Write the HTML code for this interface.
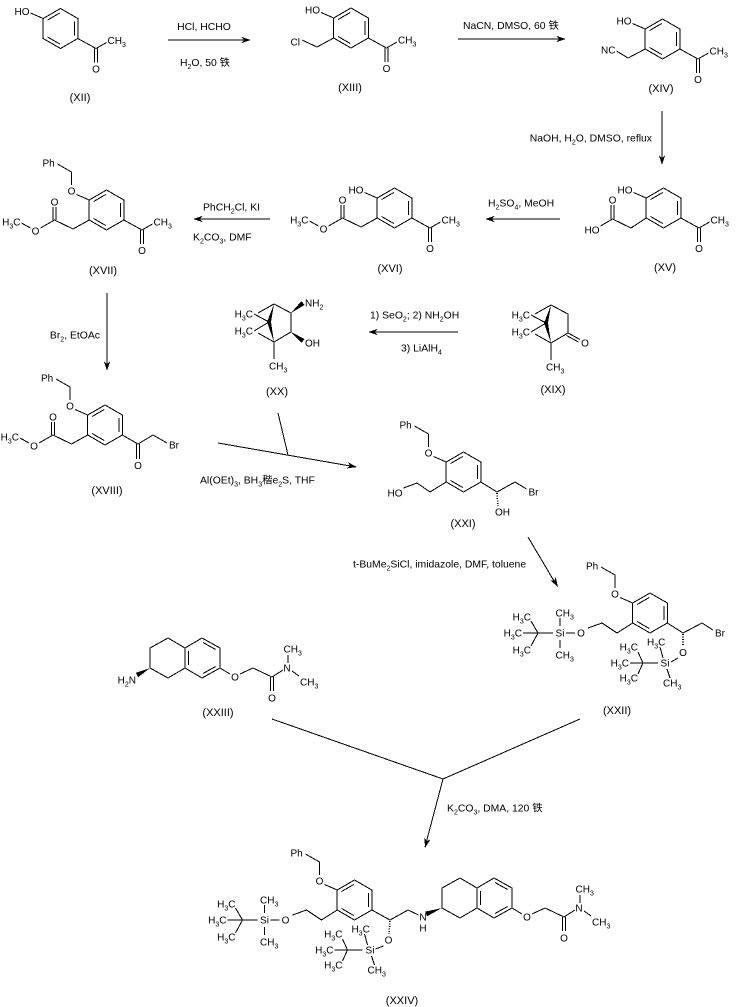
<!DOCTYPE html>
<html><head><meta charset="utf-8"><style>
html,body{margin:0;padding:0;background:#fff;}
svg{display:block;}
text{font-family:"Liberation Sans","Noto Sans CJK SC",sans-serif;font-size:10px;fill:#000;}
.r{font-size:10.4px;}
.l{font-size:11px;text-anchor:middle;}
.m{text-anchor:middle;}
.e{text-anchor:end;}
path{stroke:#000;stroke-width:1;fill:none;shape-rendering:crispEdges;}
.h{stroke-dasharray:1.2,1.3;stroke-width:1.6;}
polygon{fill:#000;stroke:none;shape-rendering:crispEdges;}
</style></head><body>
<svg width="736" height="1007" viewBox="0 0 736 1007" xmlns="http://www.w3.org/2000/svg">

<!-- ===== Arrows ===== -->
<path d="M168,40H250"/><polygon points="0,0 -10,-3.2 -7,0 -10,3.2" transform="translate(251,40)"/>
<text class="r m" x="204" y="30">HCl, HCHO</text>
<text class="r m" x="205" y="66">H<tspan dy="3" font-size="7">2</tspan><tspan dy="-3">O, 50 铁</tspan></text>

<path d="M458,39H565"/><polygon points="0,0 -10,-3.2 -7,0 -10,3.2" transform="translate(566,39)"/>
<text class="r" x="463" y="29">NaCN, DMSO, 60 铁</text>

<path d="M662,111V164"/><polygon points="0,0 -10,-3.2 -7,0 -10,3.2" transform="translate(662,165) rotate(90)"/>
<text class="r e" x="652" y="141.5">NaOH, H<tspan dy="3" font-size="7">2</tspan><tspan dy="-3">O, DMSO, reflux</tspan></text>

<path d="M560,219H486"/><polygon points="0,0 -10,-3.2 -7,0 -10,3.2" transform="translate(485,219) rotate(180)"/>
<text class="r" x="488" y="206.5">H<tspan dy="3" font-size="7">2</tspan><tspan dy="-3">SO</tspan><tspan dy="3" font-size="7">4</tspan><tspan dy="-3">, MeOH</tspan></text>

<path d="M270,219H194"/><polygon points="0,0 -10,-3.2 -7,0 -10,3.2" transform="translate(193,219) rotate(180)"/>
<text class="r" x="203" y="210.5">PhCH<tspan dy="3" font-size="7">2</tspan><tspan dy="-3">Cl, KI</tspan></text>
<text class="r" x="193" y="240.5">K<tspan dy="3" font-size="7">2</tspan><tspan dy="-3">CO</tspan><tspan dy="3" font-size="7">3</tspan><tspan dy="-3">, DMF</tspan></text>

<path d="M107,293V370"/><polygon points="0,0 -10,-3.2 -7,0 -10,3.2" transform="translate(107,371) rotate(90)"/>
<text class="r e" x="100" y="338.5">Br<tspan dy="3" font-size="7">2</tspan><tspan dy="-3">, EtOAc</tspan></text>

<path d="M458,332H369"/><polygon points="0,0 -10,-3.2 -7,0 -10,3.2" transform="translate(368,332) rotate(180)"/>
<text class="r" x="370" y="318.5">1) SeO<tspan dy="3" font-size="7">2</tspan><tspan dy="-3">; 2) NH</tspan><tspan dy="3" font-size="7">2</tspan><tspan dy="-3">OH</tspan></text>
<text class="r" x="401" y="351.5">3) LiAlH<tspan dy="3" font-size="7">4</tspan></text>

<path d="M218,443L356,467M278,413L288,455"/><polygon points="0,0 -10,-3.2 -7,0 -10,3.2" transform="translate(357,467) rotate(9.9)"/>
<text class="r" x="200" y="483.5">Al(OEt)<tspan dy="3" font-size="7">3</tspan><tspan dy="-3">, BH</tspan><tspan dy="3" font-size="7">3</tspan><tspan dy="-3">稭e</tspan><tspan dy="3" font-size="7">2</tspan><tspan dy="-3">S, THF</tspan></text>

<path d="M528,537L557,586"/><polygon points="0,0 -10,-3.2 -7,0 -10,3.2" transform="translate(558,587) rotate(59)"/>
<text class="r" x="353" y="567.5">t-BuMe<tspan dy="3" font-size="7">2</tspan><tspan dy="-3">SiCl, imidazole, DMF, toluene</tspan></text>

<path d="M272,719L443,779L580,719M443,779L425,847"/><polygon points="0,0 -10,-3.2 -7,0 -10,3.2" transform="translate(425,848) rotate(104.6)"/>
<text class="r" x="447" y="811.5">K<tspan dy="3" font-size="7">2</tspan><tspan dy="-3">CO</tspan><tspan dy="3" font-size="7">3</tspan><tspan dy="-3">, DMA, 120 铁</tspan></text>

<!-- ===== XII ===== -->
<g transform="translate(60.5,28.5)">
<path d="M0,-20L17.3,-10L17.3,10L0,20L-17.3,10L-17.3,-10Z M-12.95,-8.47L-0.85,-15.47 M13.8,-7L13.8,7 M-12.95,8.47L-0.85,15.47"/>
<path d="M17.3,10L35.5,20L46,14 M34,20L34,34 M37,20L37,34"/><text x="47" y="15.5">CH<tspan dy="3" font-size="7">3</tspan></text><text class="m" x="35.5" y="44">O</text>
<path d="M-30,-15.5L-17.3,-10"/><text class="e" x="-31" y="-13.5">HO</text>
</g>
<text class="l" x="80" y="101">(XII)</text>

<!-- ===== XIII ===== -->
<g transform="translate(351,28)">
<path d="M0,-20L17.3,-10L17.3,10L0,20L-17.3,10L-17.3,-10Z M-12.95,-8.47L-0.85,-15.47 M13.8,-7L13.8,7 M-12.95,8.47L-0.85,15.47"/>
<path d="M17.3,10L35.5,20L46,14 M34,20L34,34 M37,20L37,34"/><text x="47" y="15.5">CH<tspan dy="3" font-size="7">3</tspan></text><text class="m" x="35.5" y="44">O</text>
<path d="M-30,-15.5L-17.3,-10"/><text class="e" x="-31" y="-14.5">HO</text>
<path d="M-17.3,10L-34,19L-49,12"/><text class="e" x="-51" y="17.5">Cl</text>
</g>
<text class="l" x="350" y="91">(XIII)</text>

<!-- ===== XIV ===== -->
<g transform="translate(662.5,39)">
<path d="M0,-20L17.3,-10L17.3,10L0,20L-17.3,10L-17.3,-10Z M-12.95,-8.47L-0.85,-15.47 M13.8,-7L13.8,7 M-12.95,8.47L-0.85,15.47"/>
<path d="M17.3,10L35.5,20L46,14 M34,20L34,34 M37,20L37,34"/><text x="47" y="15.5">CH<tspan dy="3" font-size="7">3</tspan></text><text class="m" x="35.5" y="44">O</text>
<path d="M-30,-15.5L-17.3,-10"/><text class="e" x="-31" y="-14.5">HO</text>
<path d="M-17.3,10L-34.5,19L-46,12"/><text class="e" x="-47" y="14.5">NC</text>
</g>
<text class="l" x="661" y="92">(XIV)</text>

<!-- ===== XV ===== -->
<g transform="translate(663.5,208)">
<path d="M0,-20L17.3,-10L17.3,10L0,20L-17.3,10L-17.3,-10Z M-12.95,-8.47L-0.85,-15.47 M13.8,-7L13.8,7 M-12.95,8.47L-0.85,15.47"/>
<path d="M17.3,10L35.5,20L46,14 M34,20L34,34 M37,20L37,34"/><text x="47" y="15.5">CH<tspan dy="3" font-size="7">3</tspan></text><text class="m" x="35.5" y="44">O</text>
<path d="M-30,-15.5L-17.3,-10"/><text class="e" x="-31" y="-14.5">HO</text>
<path d="M-17.3,10L-32.5,20L-51,11L-63,18 M-52.5,11L-52.5,-3 M-49.5,11L-49.5,-3"/>
<text class="e" x="-64" y="25.5">HO</text><text class="m" x="-51" y="-4.5">O</text>
</g>
<text class="l" x="665" y="271">(XV)</text>

<!-- ===== XVI ===== -->
<g transform="translate(394.5,208)">
<path d="M0,-20L17.3,-10L17.3,10L0,20L-17.3,10L-17.3,-10Z M-12.95,-8.47L-0.85,-15.47 M13.8,-7L13.8,7 M-12.95,8.47L-0.85,15.47"/>
<path d="M17.3,10L35.5,20L46,14 M34,20L34,34 M37,20L37,34"/><text x="47" y="15.5">CH<tspan dy="3" font-size="7">3</tspan></text><text class="m" x="35.5" y="44">O</text>
<path d="M-30,-15.5L-17.3,-10"/><text class="e" x="-31" y="-14.5">HO</text>
<path d="M-17.3,10L-33.5,19L-52,10L-66,18 M-76,18L-85,13 M-53.5,10L-53.5,-3 M-50.5,10L-50.5,-3"/>
<text class="m" x="-71" y="24.5">O</text><text class="m" x="-52" y="-4.5">O</text>
<text class="e" x="-86" y="15.5">H<tspan dy="3" font-size="7">3</tspan><tspan dy="-3">C</tspan></text>
</g>
<text class="l" x="390" y="272">(XVI)</text>

<!-- ===== XVII ===== -->
<g transform="translate(106.5,210)">
<path d="M0,-20L17.3,-10L17.3,10L0,20L-17.3,10L-17.3,-10Z M-12.95,-8.47L-0.85,-15.47 M13.8,-7L13.8,7 M-12.95,8.47L-0.85,15.47"/>
<path d="M17.3,10L35.5,20L46,14 M34,20L34,34 M37,20L37,34"/><text x="47" y="15.5">CH<tspan dy="3" font-size="7">3</tspan></text><text class="m" x="35.5" y="44">O</text>
<path d="M-49,-46L-35,-38L-35,-25 M-30,-15.5L-17.3,-10"/><text x="-64" y="-43.5">Ph</text><text class="m" x="-35" y="-15.5">O</text>
<path d="M-17.3,10L-33.5,19L-52,10L-66,18 M-76,18L-85,13 M-53.5,10L-53.5,-3 M-50.5,10L-50.5,-3"/>
<text class="m" x="-71" y="24.5">O</text><text class="m" x="-52" y="-4.5">O</text>
<text class="e" x="-86" y="15.5">H<tspan dy="3" font-size="7">3</tspan><tspan dy="-3">C</tspan></text>
</g>
<text class="l" x="103" y="274">(XVII)</text>

<!-- ===== XVIII ===== -->
<g transform="translate(105,425)">
<path d="M0,-20L17.3,-10L17.3,10L0,20L-17.3,10L-17.3,-10Z M-12.95,-8.47L-0.85,-15.47 M13.8,-7L13.8,7 M-12.95,8.47L-0.85,15.47"/>
<path d="M17.3,10L33,19L48,10L62,18 M31.5,19L31.5,34 M34.5,19L34.5,34"/><text x="64" y="23.5">Br</text><text class="m" x="33" y="44">O</text>
<path d="M-49,-46L-35,-38L-35,-25 M-30,-15.5L-17.3,-10"/><text x="-64" y="-43.5">Ph</text><text class="m" x="-35" y="-15.5">O</text>
<path d="M-17.3,10L-33.5,19L-52,10L-66,18 M-76,18L-85,13 M-53.5,10L-53.5,-3 M-50.5,10L-50.5,-3"/>
<text class="m" x="-71" y="24.5">O</text><text class="m" x="-52" y="-4.5">O</text>
<text class="e" x="-86" y="15.5">H<tspan dy="3" font-size="7">3</tspan><tspan dy="-3">C</tspan></text>
</g>
<text class="l" x="107" y="494">(XVIII)</text>

<!-- ===== XIX ===== -->
<g transform="translate(551,305)">
<path d="M0,0L17,9L17,28L0,38L-16,29 M0,0L-16,9 M-20,10L-5,18L-20,27 M0,38L0,55"/>
<polygon points="0,0 -3,18 0,38 -7,18"/>
<path d="M17,28L29,34.5 M15.5,30.5L27.5,37"/>
<text class="m" x="34" y="41.5">O</text>
<text class="e" x="-21" y="13.5">H<tspan dy="3" font-size="7">3</tspan><tspan dy="-3">C</tspan></text>
<text class="e" x="-21" y="30.5">H<tspan dy="3" font-size="7">3</tspan><tspan dy="-3">C</tspan></text>
<text x="-5" y="65.5">CH<tspan dy="3" font-size="7">3</tspan></text>
</g>
<text class="l" x="553" y="393">(XIX)</text>

<!-- ===== XX ===== -->
<g transform="translate(274,304)">
<path d="M0,0L17,9L17,28L0,38L-16,29 M0,0L-16,9 M-20,10L-5,18L-20,27 M0,38L0,55"/>
<polygon points="0,0 -3,18 0,38 -7,18"/>
<polygon points="17,9 30.6,0.9 27.4,-2.9"/>
<polygon points="17,28 27.5,39 30.5,35"/>
<text x="31" y="2.5">NH<tspan dy="3" font-size="7">2</tspan></text>
<text x="31" y="42.5">OH</text>
<text class="e" x="-21" y="13.5">H<tspan dy="3" font-size="7">3</tspan><tspan dy="-3">C</tspan></text>
<text class="e" x="-21" y="30.5">H<tspan dy="3" font-size="7">3</tspan><tspan dy="-3">C</tspan></text>
<text x="-5" y="65.5">CH<tspan dy="3" font-size="7">3</tspan></text>
</g>
<text class="l" x="277" y="395">(XX)</text>

<!-- ===== XXI ===== -->
<g transform="translate(463.5,472)">
<path d="M0,-20L17.3,-10L17.3,10L0,20L-17.3,10L-17.3,-10Z M-12.95,-8.47L-0.85,-15.47 M13.8,-7L13.8,7 M-12.95,8.47L-0.85,15.47"/>
<path d="M-49,-46L-35,-38L-35,-25 M-30,-15.5L-17.3,-10"/><text x="-64" y="-43.5">Ph</text><text class="m" x="-35" y="-15.5">O</text>
<path d="M-17.3,10L-33.5,20L-46.5,11L-60,16"/><text class="e" x="-61" y="24.5">HO</text>
<path d="M17.3,10L33.5,20L51.5,10L63,17"/>
<path class="h" d="M33.5,21L34.5,34"/>
<text x="31.5" y="43.5">OH</text><text x="65" y="23.5">Br</text>
</g>
<text class="l" x="463" y="527">(XXI)</text>

<!-- ===== XXII ===== -->
<g transform="translate(650,613)">
<path d="M0,-20L17.3,-10L17.3,10L0,20L-17.3,10L-17.3,-10Z M-12.95,-8.47L-0.85,-15.47 M13.8,-7L13.8,7 M-12.95,8.47L-0.85,15.47"/>
<path d="M-49,-46L-35,-38L-35,-25 M-30,-15.5L-17.3,-10"/><text x="-64" y="-43.5">Ph</text><text class="m" x="-35" y="-15.5">O</text>
<path d="M-17.3,10L-33,20L-48,10L-62,15 M-75,20L-84,20 M-90,13L-90,5 M-90,27L-90,35 M-97,20L-112,20L-119,8 M-112,20L-127,20 M-112,20L-119,33"/>
<text class="m" x="-69" y="23.5">O</text>
<text class="m" x="-90" y="23.5">Si</text>
<text x="-94.5" y="3.5">CH<tspan dy="3" font-size="7">3</tspan></text>
<text x="-94.5" y="45.5">CH<tspan dy="3" font-size="7">3</tspan></text>
<text class="e" x="-119" y="7.5">H<tspan dy="3" font-size="7">3</tspan><tspan dy="-3">C</tspan></text>
<text class="e" x="-128" y="23.5">H<tspan dy="3" font-size="7">3</tspan><tspan dy="-3">C</tspan></text>
<text class="e" x="-119" y="40.5">H<tspan dy="3" font-size="7">3</tspan><tspan dy="-3">C</tspan></text>
<path d="M17.3,10L33,20L52,10L63,17"/><text x="65" y="23.5">Br</text>
<path class="h" d="M33,21L33,33"/>
<text class="m" x="33" y="43">O</text>
<path d="M28,45L21,49 M13,45L10,34 M17,56L20,65 M8,50L-7,50L-12,39 M-7,50L-20,50 M-7,50L-12,61"/>
<text class="m" x="15" y="53.5">Si</text>
<text x="-3" y="32.5">H<tspan dy="3" font-size="7">3</tspan><tspan dy="-3">C</tspan></text>
<text x="13" y="73.5">CH<tspan dy="3" font-size="7">3</tspan></text>
<text class="e" x="-12" y="37.5">H<tspan dy="3" font-size="7">3</tspan><tspan dy="-3">C</tspan></text>
<text class="e" x="-21" y="53.5">H<tspan dy="3" font-size="7">3</tspan><tspan dy="-3">C</tspan></text>
<text class="e" x="-12" y="68.5">H<tspan dy="3" font-size="7">3</tspan><tspan dy="-3">C</tspan></text>
</g>
<text class="l" x="617" y="714">(XXII)</text>

<!-- ===== XXIII ===== -->
<g>
<path d="M150,668L150,648L168,638L185,648L185,668L168,678Z M185,648L202,638L220,648L220,668L202,678L185,668 M188.5,651L188.5,665 M203,642.5L215.6,649.5 M215.6,666.5L203,673.5 M220,668L230,674 M240,674L253,668L272,677L283,670 M270.5,677L270.5,691 M273.5,677L273.5,691 M288,663L288,655 M292,671L299,676"/>
<text class="m" x="235" y="680.5">O</text>
<text class="m" x="272" y="701.5">O</text>
<text class="m" x="287" y="671.5">N</text>
<text x="283.5" y="652.5">CH<tspan dy="3" font-size="7">3</tspan></text>
<text x="300" y="685.5">CH<tspan dy="3" font-size="7">3</tspan></text>
</g>
<polygon points="150,668 138.2,677.2 135.8,672.8"/>
<text class="e" x="136" y="683.5">H<tspan dy="3" font-size="7">2</tspan><tspan dy="-3">N</tspan></text>
<text class="l" x="218" y="716">(XXIII)</text>

<!-- ===== XXIV ===== -->
<g transform="translate(354.5,900)">
<path d="M0,-20L17.3,-10L17.3,10L0,20L-17.3,10L-17.3,-10Z M-12.95,-8.47L-0.85,-15.47 M13.8,-7L13.8,7 M-12.95,8.47L-0.85,15.47"/>
<path d="M-49,-46L-35,-38L-35,-25 M-30,-15.5L-17.3,-10"/><text x="-64" y="-43.5">Ph</text><text class="m" x="-35" y="-15.5">O</text>
<path d="M-17.3,10L-33,20L-48,10L-62,15 M-75,20L-84,20 M-90,13L-90,5 M-90,27L-90,35 M-97,20L-112,20L-119,8 M-112,20L-127,20 M-112,20L-119,33"/>
<text class="m" x="-69" y="23.5">O</text>
<text class="m" x="-90" y="23.5">Si</text>
<text x="-94.5" y="3.5">CH<tspan dy="3" font-size="7">3</tspan></text>
<text x="-94.5" y="45.5">CH<tspan dy="3" font-size="7">3</tspan></text>
<text class="e" x="-119" y="7.5">H<tspan dy="3" font-size="7">3</tspan><tspan dy="-3">C</tspan></text>
<text class="e" x="-128" y="23.5">H<tspan dy="3" font-size="7">3</tspan><tspan dy="-3">C</tspan></text>
<text class="e" x="-119" y="40.5">H<tspan dy="3" font-size="7">3</tspan><tspan dy="-3">C</tspan></text>
<path d="M17.3,10L35.5,20L53.5,10L64,15"/>
<text class="m" x="68.5" y="20.5">N</text><text class="m" x="68.5" y="31.5">H</text>
<path class="h" d="M35.5,21L34.5,34"/>
<text class="m" x="34" y="43.5">O</text>
<path d="M29,46L21,49 M13,45L10,34 M17,56L20,65 M8,50L-7,50L-12,39 M-7,50L-20,50 M-7,50L-12,61"/>
<text class="m" x="15.5" y="53.5">Si</text>
<text x="-3" y="32.5">H<tspan dy="3" font-size="7">3</tspan><tspan dy="-3">C</tspan></text>
<text x="13" y="73.5">CH<tspan dy="3" font-size="7">3</tspan></text>
<text class="e" x="-12" y="37.5">H<tspan dy="3" font-size="7">3</tspan><tspan dy="-3">C</tspan></text>
<text class="e" x="-21" y="53.5">H<tspan dy="3" font-size="7">3</tspan><tspan dy="-3">C</tspan></text>
<text class="e" x="-12" y="68.5">H<tspan dy="3" font-size="7">3</tspan><tspan dy="-3">C</tspan></text>
</g>
<polygon points="442,908 427,916.3 425.1,911.7"/>
<g transform="translate(292,240)">
<path d="M150,668L150,648L168,638L185,648L185,668L168,678Z M185,648L202,638L220,648L220,668L202,678L185,668 M188.5,651L188.5,665 M203,642.5L215.6,649.5 M215.6,666.5L203,673.5 M220,668L230,674 M240,674L253,668L272,677L283,670 M270.5,677L270.5,691 M273.5,677L273.5,691 M288,663L288,655 M292,671L299,676"/>
<text class="m" x="235" y="680.5">O</text>
<text class="m" x="272" y="701.5">O</text>
<text class="m" x="287" y="671.5">N</text>
<text x="283.5" y="652.5">CH<tspan dy="3" font-size="7">3</tspan></text>
<text x="300" y="685.5">CH<tspan dy="3" font-size="7">3</tspan></text>
</g>
<text class="l" x="402" y="1004">(XXIV)</text>

</svg>
</body></html>
